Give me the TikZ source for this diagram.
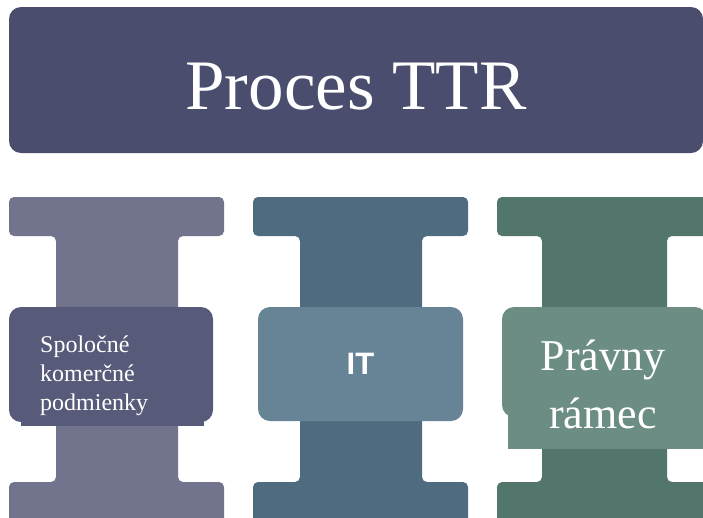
\documentclass[tikz,border=0pt]{standalone}
\usepackage{fontspec}
\setmainfont{Liberation Serif}
\newfontfamily\itfont{Liberation Sans}
\definecolor{ttrblue}{RGB}{75,77,110}
\definecolor{beamA}{RGB}{114,115,140}
\definecolor{boxA}{RGB}{88,90,122}
\definecolor{beamB}{RGB}{78,107,128}
\definecolor{boxB}{RGB}{103,131,150}
\definecolor{beamC}{RGB}{82,118,108}
\definecolor{boxC}{RGB}{108,141,131}

\tikzset{
  beam/.style = {rounded corners=5pt},% profil I
  inbox/.style = {rounded corners=12pt, inner sep=0pt, minimum height=114pt, minimum width=205pt},% boite interieure
  intext/.style = {inner sep=0pt, text=white, align=left},% texte blanc
  headbox/.style = {rounded corners=12pt, fill=ttrblue, inner sep=0pt,
    minimum width=694pt, minimum height=146pt}% bandeau du titre
}

\begin{document}
\begin{tikzpicture}[x=1pt, y=-1pt]
        \useasboundingbox (0,0) rectangle (703,517);
        \clip (0,0) rectangle (703,517);
        % titre
        \node [headbox] (ttr) at (356,80) {};
        \node [intext, anchor=base, font=\fontsize{71}{71}\selectfont] (ttrtext) at (356,109) {Proces TTR};
        % profils
        \fill [beam, beamA] (9,197) -- (224,197) -- (224,236) -- (178,236) -- (178,482) -- (224,482)
          -- (224,530) -- (9,530) -- (9,482) -- (56,482) -- (56,236) -- (9,236) -- cycle;
        \fill [beam, beamB] (253,197) -- (468,197) -- (468,236) -- (422,236) -- (422,482) -- (468,482)
          -- (468,530) -- (253,530) -- (253,482) -- (300,482) -- (300,236) -- (253,236) -- cycle;
        \fill [beam, beamC] (497,197) -- (712,197) -- (712,236) -- (667,236) -- (667,482) -- (712,482)
          -- (712,530) -- (497,530) -- (497,482) -- (542,482) -- (542,236) -- (497,236) -- cycle;
        % boites
        \fill [boxA] (21,340) rectangle (204,426);
        \node [inbox, fill=boxA, minimum width=204pt, minimum height=115pt] (spol) at (111,364.5) {};
        \node [intext, anchor=base west, font=\fontsize{24}{29}\selectfont] (spoltext) at (40,410)
          {Spoločné\\komerčné\\podmienky};
        \node [inbox, fill=boxB, text=white, font=\itfont\bfseries\fontsize{31}{31}\selectfont] (it) at (360.5,364) {IT};
        \fill [boxC] (508,400) rectangle (712,449);
        \node [inbox, fill=boxC, minimum height=110pt] (prav) at (604.5,362) {};
        \node [intext, align=center, anchor=base, font=\fontsize{44}{58}\selectfont] (pravtext) at (603,428)
          {Právny\\rámec};
      \end{tikzpicture}
\end{document}
